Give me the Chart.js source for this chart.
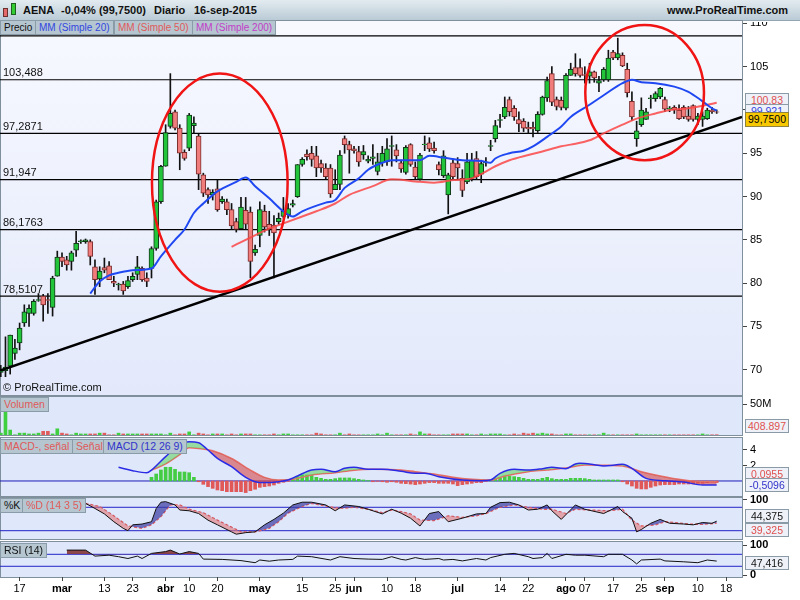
<!DOCTYPE html>
<html>
<head>
<meta charset="utf-8">
<title>AENA Diario</title>
<script src="https://cdn.jsdelivr.net/npm/chart.js@4.4.1/dist/chart.umd.min.js"></script>
<style>
  body { margin: 0; width: 800px; height: 600px; position: relative; overflow: hidden; background: #fff; font-family: "Liberation Sans", Arial, sans-serif; }
  .abs { position: absolute; }
  .panel { position: absolute; left: 0; width: 743px; border: 1px solid #7f8f9c; box-sizing: border-box; background: #dfe7fb; }
  canvas { position: absolute; left: 0; }
  .tag { position: absolute; left: 745px; width: 44px; box-sizing: border-box; font-size: 10.5px; line-height: 12px; text-align: center; border: 1px solid #8a9aa6; background: #eef2f8; white-space: nowrap; }
  .lbl { position: absolute; font-size: 10.5px; line-height: 13px; padding: 0 3px; background: #b5c6d0; border: 1px solid #8a9ca8; white-space: nowrap; }
  .hd { position: absolute; top: 4px; font-size: 11px; font-weight: bold; color: #111; }
</style>
</head>
<body>
<!-- header -->
<div class="abs" style="left:0;top:0;width:800px;height:20px;background:linear-gradient(#e3ebf0,#bacbd6);border-bottom:1px solid #93a6b2"></div>
<div class="abs" style="left:3px;top:8px;width:3px;height:7px;background:#e46a6a;border:1px solid #6b3030"></div>
<div class="abs" style="left:11px;top:3px;width:3px;height:10px;background:#33cc33;border:1px solid #1f5f1f"></div>
<span class="hd" style="left:23px">AENA</span>
<span class="hd" style="left:61px">-0,04% (99,7500)</span>
<span class="hd" style="left:154px">Diario</span>
<span class="hd" style="left:194px">16-sep-2015</span>
<span class="hd" style="left:667px">www.ProRealTime.com</span>

<!-- panel backgrounds -->
<div class="panel" style="top:20px;height:376px;background:linear-gradient(#f7f9ff,#e3e9fb)"></div>
<div class="panel" style="top:396px;height:40px"></div>
<div class="panel" style="top:437px;height:60px"></div>
<div class="panel" style="top:497px;height:43px"></div>
<div class="panel" style="top:541px;height:37px"></div>

<canvas id="cMain" width="800" height="372" style="top:22px"></canvas>
<canvas id="cVol" width="800" height="44" style="top:391px"></canvas>
<canvas id="cMacd" width="800" height="63" style="top:433px"></canvas>
<canvas id="cStoch" width="800" height="47" style="top:492px"></canvas>
<canvas id="cRsi" width="800" height="63" style="top:537px"></canvas>

<!-- legend boxes -->
<div class="lbl" style="left:0;top:20px;font-size:10px;color:#111">Precio</div>
<div class="lbl" style="left:35px;top:20px;font-size:10px;color:#3346e0">MM (Simple 20)</div>
<div class="lbl" style="left:114px;top:20px;font-size:10px;color:#e05a5a">MM (Simple 50)</div>
<div class="lbl" style="left:192px;top:20px;font-size:10px;color:#c23cc8">MM (Simple 200)</div>
<div class="abs" style="left:3px;top:381px;font-size:11px;color:#111">© ProRealTime.com</div>

<div class="lbl" style="left:0;top:397px;color:#e05a5a">Volumen</div>
<div class="lbl" style="left:0;top:439px;color:#e05a5a">MACD-, señal</div>
<div class="lbl" style="left:72px;top:439px;color:#e05a5a">Señal</div>
<div class="lbl" style="left:103px;top:439px;color:#3333cc">MACD (12 26 9)</div>
<div class="lbl" style="left:0;top:498px;color:#111">%K</div>
<div class="lbl" style="left:22px;top:498px;color:#e05a5a">%D (14 3 5)</div>
<div class="lbl" style="left:0;top:543px;color:#111">RSI (14)</div>

<!-- value tags -->
<div class="tag" style="top:93px;color:#e05050">100,83</div>
<div class="tag" style="top:104px;color:#3344dd">99,921</div>
<div class="tag" style="top:112px;height:15px;line-height:13px;background:#f7c800;border-color:#8d8240;color:#000">99,7500</div>
<div class="tag" style="top:419px;color:#e05050">408.897</div>
<div class="tag" style="top:467px;color:#e05050">0,0955</div>
<div class="tag" style="top:478px;height:14px;color:#3333cc">-0,5096</div>
<div class="tag" style="top:509px;color:#111">44,375</div>
<div class="tag" style="top:523px;height:14px;color:#e05050">39,325</div>
<div class="tag" style="top:556px;color:#111">47,416</div>

<script>
// trading days 11-feb-2015 .. 16-sep-2015, index 0..152
const openP = [
  69.7, 69.9, 70.4, 71.9, 73.1, 75.4, 76.5, 76.5, 78.0, 78.5,
  78.1, 77.2, 80.8, 83.0, 82.7, 82.5, 83.8, 84.8, 84.8, 84.8,
  81.9, 80.5, 81.8, 82.0, 80.2, 79.8, 79.9, 79.6, 80.4, 81.0,
  81.7, 80.6, 81.7, 84.0, 89.4, 93.5, 98.1, 99.8, 97.9, 95.1,
  95.6, 98.2, 97.0, 92.5, 90.8, 90.2, 90.9, 89.4, 89.4, 88.5,
  87.1, 86.3, 88.4, 88.2, 83.5, 85.5, 88.3, 86.8, 86.7, 87.1,
  87.7, 87.9, 89.0, 90.0, 93.7, 94.9, 95.0, 94.7, 93.8, 93.3,
  93.3, 90.8, 91.4, 96.7, 96.0, 95.5, 95.2, 94.8, 94.1, 94.4,
  92.9, 93.9, 94.0, 95.8, 95.4, 93.9, 92.8, 96.0, 93.4, 92.0,
  96.0, 96.2, 95.6, 93.7, 92.4, 90.2, 93.9, 93.8, 92.1, 91.7,
  92.1, 94.4, 92.6, 93.9, 95.8, 96.7, 98.8, 99.2, 101.2, 100.2,
  98.9, 98.7, 98.0, 98.0, 97.6, 99.5, 101.4, 104.2, 101.2, 101.1,
  100.2, 104.0, 104.9, 104.9, 104.1, 103.9, 104.4, 103.1, 103.5, 103.5,
  106.7, 106.0, 106.3, 104.7, 101.0, 96.7, 98.3, 98.9, 101.3, 101.3,
  101.5, 101.2, 100.1, 100.3, 100.0, 100.3, 99.3, 100.5, 98.9, 98.9,
  99.0, 100.0, 99.8
];
const highP = [
  70.5, 73.8, 74.0, 73.5, 75.4, 77.5, 77.5, 78.1, 78.8, 78.7,
  78.8, 80.8, 83.7, 83.5, 83.1, 83.7, 86.0, 85.0, 85.1, 85.0,
  82.7, 81.9, 82.9, 82.5, 80.8, 80.0, 80.2, 80.8, 81.2, 83.1,
  81.9, 81.2, 84.2, 89.6, 93.6, 98.3, 104.2, 100.0, 98.3, 95.4,
  99.6, 99.2, 97.2, 92.7, 91.0, 90.8, 91.9, 90.0, 89.7, 89.2,
  87.5, 89.9, 89.9, 88.8, 84.4, 89.4, 89.0, 88.3, 87.8, 88.1,
  89.9, 89.2, 89.6, 93.7, 94.5, 95.4, 95.8, 95.8, 94.2, 93.8,
  93.7, 93.1, 95.3, 97.0, 96.4, 95.8, 95.8, 95.9, 94.7, 96.0,
  95.0, 95.8, 96.7, 97.0, 96.0, 94.2, 95.9, 96.1, 94.0, 95.0,
  97.0, 96.8, 96.3, 94.0, 95.3, 92.7, 94.4, 94.5, 93.1, 95.0,
  95.0, 95.2, 94.2, 94.5, 96.5, 98.8, 99.5, 101.5, 101.5, 100.5,
  99.8, 99.0, 98.6, 98.6, 99.8, 101.6, 103.8, 105.0, 101.5, 101.5,
  104.2, 105.4, 106.5, 105.9, 105.0, 105.4, 104.5, 103.9, 104.9, 106.9,
  106.9, 108.3, 106.6, 105.4, 102.1, 98.7, 101.4, 100.2, 101.7, 102.1,
  102.6, 101.5, 100.4, 100.5, 100.6, 100.5, 100.4, 100.6, 99.6, 99.8,
  100.2, 100.3, 100.0
];
const lowP = [
  69.2, 69.2, 69.5, 71.2, 72.3, 75.0, 75.0, 76.3, 77.9, 75.6,
  76.5, 76.2, 80.8, 81.9, 81.5, 81.5, 83.1, 84.6, 84.6, 82.1,
  78.7, 79.6, 81.2, 80.4, 79.6, 79.2, 78.7, 79.4, 80.2, 80.4,
  80.2, 79.6, 80.6, 83.8, 89.2, 93.5, 97.9, 97.7, 93.1, 94.2,
  95.3, 97.3, 90.8, 90.0, 89.2, 89.6, 88.3, 89.2, 87.9, 86.2,
  85.9, 86.3, 86.2, 80.6, 83.2, 84.2, 85.9, 85.5, 80.6, 86.8,
  87.5, 87.5, 88.8, 89.9, 93.5, 94.2, 93.5, 92.3, 92.8, 92.0,
  89.9, 90.8, 90.8, 95.0, 92.7, 95.0, 93.5, 94.3, 93.9, 93.7,
  92.5, 93.5, 93.6, 93.5, 94.0, 92.8, 92.6, 93.5, 92.0, 91.9,
  95.3, 95.2, 95.0, 92.5, 92.2, 88.0, 92.0, 92.0, 90.0, 91.5,
  91.8, 92.0, 91.6, 93.5, 95.3, 96.3, 98.0, 99.0, 99.3, 98.8,
  97.5, 97.5, 97.3, 96.9, 97.4, 99.4, 101.0, 100.5, 100.0, 100.0,
  100.0, 104.0, 103.9, 103.8, 103.1, 103.1, 103.2, 102.1, 103.3, 103.3,
  105.8, 105.8, 105.0, 101.5, 98.8, 95.8, 98.1, 98.9, 100.2, 101.0,
  101.3, 99.8, 99.8, 99.6, 98.9, 99.0, 98.7, 98.7, 98.3, 98.1,
  98.9, 99.6, 99.6
];
const closeP = [
  70.0, 70.3, 74.0, 72.5, 74.8, 76.7, 77.1, 77.9, 78.1, 77.5,
  78.0, 80.6, 83.0, 82.5, 82.1, 83.5, 84.6, 84.9, 85.0, 83.1,
  80.4, 81.4, 81.5, 80.4, 80.0, 79.9, 79.1, 80.3, 80.8, 81.9,
  80.4, 80.2, 84.0, 89.4, 93.5, 97.4, 99.6, 97.9, 95.0, 94.4,
  99.4, 98.5, 92.6, 90.4, 90.2, 90.5, 88.5, 89.7, 88.5, 86.6,
  86.2, 88.8, 86.8, 82.5, 83.9, 88.5, 86.5, 86.3, 85.8, 87.5,
  88.3, 88.6, 89.2, 93.7, 94.3, 94.6, 94.3, 93.3, 93.3, 92.3,
  90.3, 91.4, 94.8, 96.0, 95.4, 95.3, 94.0, 95.2, 94.3, 94.6,
  94.0, 95.0, 95.5, 95.9, 94.7, 93.2, 95.7, 93.7, 92.3, 94.8,
  96.05, 95.5, 95.3, 93.1, 94.7, 92.5, 92.3, 93.3, 90.7, 94.0,
  94.2, 92.3, 93.8, 94.0, 95.9, 98.2, 98.9, 100.3, 99.8, 99.2,
  98.4, 97.9, 97.8, 97.8, 99.5, 101.5, 103.4, 100.9, 100.4, 100.3,
  104.0, 104.7, 104.2, 104.0, 104.0, 104.4, 103.7, 103.4, 104.7, 106.0,
  106.0, 106.5, 105.1, 102.0, 99.2, 97.6, 100.0, 99.8, 101.4, 101.9,
  102.5, 100.1, 100.2, 100.0, 99.0, 99.2, 98.9, 98.9, 99.3, 99.3,
  100.0, 99.8, 99.75
];
// volume in millions of shares
const volumeM = [
  3, 38, 8, 0.3, 3, 3, 1.7, 1.7, 3, 6,
  6, 1.7, 10, 3, 1.7, 0.3, 3, 1.7, 1.7, 1.7,
  1.7, 3, 3, 0.3, 0.3, 3, 1.7, 1.7, 1.7, 1.7,
  1.7, 1.7, 1.7, 1.7, 1.7, 0.3, 3, 0.3, 1.7, 1.7,
  5, 0.3, 3, 1.7, 0.3, 1.7, 1.7, 1.7, 0.3, 1.7,
  0.3, 1.7, 1.7, 1.7, 0.3, 0.3, 0.3, 0.3, 1.7, 0.3,
  1.7, 1.7, 0.3, 0.3, 0.3, 0.3, 0.3, 3, 1.7, 0.3,
  0.3, 0.3, 3, 0.3, 1.7, 0.3, 0.3, 0.3, 0.3, 0.3,
  1.7, 0.3, 3, 0.3, 0.3, 0.3, 0.3, 1.7, 0.3, 5,
  1.7, 1.7, 0.3, 0.3, 0.3, 0.3, 1.7, 1.7, 1.7, 1.7,
  0.3, 0.3, 1.7, 0.3, 1.7, 1.7, 1.7, 0.3, 0.3, 1.7,
  0.3, 3, 1.7, 3, 1.7, 3, 1.7, 1.7, 0.3, 0.3,
  1.7, 1.7, 0.3, 0.3, 0.3, 0.3, 0.3, 0.3, 3, 0.3,
  0.3, 0.3, 0.3, 0.3, 0.3, 1.7, 0.3, 0.3, 0.3, 0.3,
  0.3, 0.3, 0.3, 0.3, 0.3, 0.3, 0.3, 0.3, 0.3, 1.7,
  0.3, 0.3, 0.41
];
// moving averages (index, value)
const ma20Idx = [19, 21, 23, 25, 28, 32, 34, 37, 39, 41, 43, 46, 50, 52, 54, 57, 60, 62, 64, 69, 71, 73, 76, 78, 81, 83, 89, 91, 94, 98, 102, 104, 105, 108, 111, 113, 116, 119, 121, 125, 128, 132, 134, 136, 139, 143, 146, 149, 151, 152];
const ma20Val = [78.8, 80.2, 80.9, 81.2, 81.5, 81.7, 83.1, 85.0, 86.2, 88.1, 89.2, 90.6, 91.7, 92.2, 91.2, 89.8, 88.3, 87.7, 88.3, 89.3, 89.6, 91.0, 92.1, 93.1, 93.9, 94.2, 94.2, 94.7, 94.5, 94.2, 94.1, 93.9, 94.4, 95.0, 95.3, 95.8, 96.9, 98.1, 99.2, 100.6, 101.7, 103.1, 103.5, 103.2, 103.1, 102.7, 102.1, 101.0, 100.2, 99.92];
const ma50Idx = [49, 52, 55, 57, 60, 64, 67, 71, 74, 79, 83, 89, 92, 96, 100, 102, 105, 108, 112, 115, 119, 121, 125, 128, 132, 135, 139, 142, 146, 150, 152];
const ma50Val = [84.2, 85.0, 85.8, 86.3, 86.9, 87.7, 88.3, 89.2, 90.2, 91.2, 92.0, 91.7, 91.6, 91.9, 92.1, 92.6, 93.5, 94.2, 94.8, 95.2, 95.8, 96.0, 96.5, 97.3, 98.3, 99.0, 99.6, 100.0, 100.2, 100.6, 100.83];
// drawn objects on the price panel
const levels = [108.55, 103.488, 97.2871, 91.947, 86.1763, 78.5107];
const levelText = ['', '103,488', '97,2871', '91,947', '86,1763', '78,5107'];
const trendIdx = [-0.164, 157.37];
const trendVal = [69.9, 99.2];
const circles = [[46.5, 91.6, 14.4, 12.6], [136.7, 102.0, 12.6, 7.8]]; // centre idx, centre price, radius idx, radius price
// MACD (12 26 9)
const macdHist = [
  null, null, null, null, null, null, null, null, null, null,
  null, null, null, null, null, null, null, null, null, null,
  null, null, null, null, null, null, null, null, null, null,
  null, null,
  0.47, 0.9, 1.42, 1.77, 1.77, 1.5, 1.16, 1.16, 1.07, 0.47,
  -0.1, -0.43, -0.73, -0.95, -1.16, -1.25, -1.38, -1.38, -1.38, -1.38,
  -1.5, -1.25, -1.07, -0.82, -0.73, -0.65, -0.52, -0.3, -0.17, -0.05,
  0.3, 0.56, 0.77, 0.77, 0.77, 0.47, 0.34, 0.21, 0.21, 0.3,
  0.39, 0.39, 0.39, 0.3, 0.21, 0.13, 0.05, -0.1, -0.05, -0.1,
  -0.17, -0.1, -0.17, -0.3, -0.34, -0.4, -0.47, -0.39, -0.3, -0.21,
  -0.21, -0.3, -0.3, -0.3, -0.39, -0.6, -0.47, -0.39, -0.3, -0.21,
  -0.21, -0.05, 0.13, 0.34, 0.47, 0.65, 0.65, 0.56, 0.47, 0.34,
  0.21, 0.21, 0.21, 0.34, 0.47, 0.3, 0.21, 0.21, 0.21, 0.34,
  0.34, 0.34, 0.3, 0.21, 0.13, 0.13, 0.13, 0.13, 0.13, 0.13,
  -0.1, -0.39, -0.65, -0.95, -1.03, -1.03, -0.82, -0.65, -0.52, -0.47,
  -0.47, -0.47, -0.39, -0.39, -0.39, -0.39, -0.3, -0.3, -0.21, -0.13, -0.2
];
const macdIdx = [25, 28, 31, 32, 35, 38, 40, 42, 44, 46, 49, 52, 54, 56, 59, 61, 63, 66, 68, 71, 73, 75, 78, 81, 85, 88, 90, 93, 98, 102, 104, 106, 109, 112, 115, 117, 120, 122, 123, 126, 128, 132, 134, 137, 141, 145, 149, 152];
const macdVal = [1.77, 1.33, 1.07, 1.41, 3.14, 4.65, 5.07, 4.94, 4.0, 2.92, 1.85, 0.47, -0.09, -0.21, -0.09, 0.13, 0.65, 1.42, 1.51, 1.2, 1.63, 1.78, 1.51, 1.51, 1.25, 0.99, 0.99, 0.56, 0.13, 0.04, 0.13, 0.99, 1.51, 1.42, 1.59, 1.77, 1.59, 2.19, 2.28, 2.11, 1.94, 2.15, 1.63, 0.34, 0.04, -0.13, -0.52, -0.51];
const signalIdx = [32, 35, 38, 40, 42, 45, 49, 53, 56, 59, 62, 66, 71, 75, 79, 85, 88, 92, 96, 100, 104, 107, 112, 116, 120, 124, 129, 132, 136, 140, 145, 149, 152];
const signalVal = [1.4, 2.2, 3.4, 4.3, 4.2, 3.9, 2.9, 1.4, 0.47, 0.13, 0.21, 0.77, 1.07, 1.4, 1.5, 1.42, 1.2, 0.9, 0.47, 0.21, 0.13, 0.65, 1.2, 1.42, 1.68, 2.06, 2.02, 1.94, 1.2, 0.65, 0.13, -0.09, -0.1];
// Stochastic %K / %D (14 3 5)
const kIdx = [18, 20, 22, 24, 26, 27, 28, 30, 32, 33, 34, 35, 37, 38, 40, 42, 44, 46, 49, 50, 52, 54, 56, 58, 60, 62, 64, 66, 69, 71, 73, 76, 78, 81, 83, 85, 87, 89, 91, 93, 95, 98, 101, 103, 104, 106, 108, 110, 112, 114, 116, 117, 119, 122, 124, 128, 131, 132, 134, 135, 136, 138, 140, 142, 145, 147, 149, 151, 152];
const kVal = [90, 77, 63, 43, 26, 20, 35, 37, 43, 77, 93, 94.5, 86, 73, 71, 64, 47, 35, 17, 11, 15, 17, 35, 49, 65, 86, 93, 93, 86, 71, 86, 82, 75, 63, 75, 65, 52, 32, 64, 69, 43, 52, 63, 64, 80, 92, 93, 86, 73, 75, 86, 71, 49, 86, 75, 64, 82, 69, 52, 17, 23, 39, 49, 39, 37, 35, 41, 39, 44.4];
const dIdx = [18, 21, 24, 27, 30, 32, 34, 36, 38, 40, 43, 46, 49, 51, 54, 57, 59, 61, 64, 66, 69, 72, 75, 78, 81, 83, 85, 87, 89, 92, 95, 98, 101, 103, 106, 109, 112, 115, 117, 120, 122, 125, 129, 132, 134, 136, 139, 141, 143, 146, 149, 152];
const dVal = [90, 82, 58, 32, 26, 35, 56, 86, 86, 75, 66, 47, 29, 17, 17, 26, 43, 65, 82, 90, 83, 77, 80, 75, 66, 73, 69, 63, 47, 46, 58, 54, 58, 64, 80, 86, 80, 75, 75, 64, 75, 73, 71, 75, 47, 32, 35, 43, 41, 37, 36, 39.3];
// RSI (14)
const rsiIdx = [14, 18, 20, 23, 25, 27, 29, 30, 32, 35, 36, 38, 40, 42, 43, 47, 51, 54, 55, 57, 59, 62, 63, 66, 70, 72, 75, 78, 81, 83, 85, 86, 88, 90, 93, 94, 96, 98, 101, 103, 104, 107, 109, 112, 113, 115, 116, 117, 120, 122, 124, 128, 129, 132, 134, 135, 136, 140, 141, 145, 148, 150, 152];
const rsiVal = [84, 84, 64, 67, 62, 56, 64, 56, 73, 79, 84, 71, 79, 73, 54, 53, 49, 42, 51, 47, 51, 53, 64, 62, 51, 62, 56, 54, 53, 62, 53, 51, 59, 53, 56, 51, 53, 48, 56, 51, 59, 70, 73, 62, 56, 59, 73, 56, 70, 67, 67, 62, 70, 70, 51, 38, 51, 54, 48, 45, 42, 51, 47.4];
// axes
const priceTicks = [70, 75, 80, 85, 90, 95, 100, 105, 110];
const tickIdx = [4, 13, 22, 28, 35, 40, 46, 55, 64, 71, 75, 82, 88, 97, 106, 112, 120, 124, 130, 136, 141, 148, 154];
const tickText = ['17', 'mar', '13', '23', 'abr', '10', '20', 'may', '15', '25', 'jun', '10', '18', 'jul', '14', '22', 'ago', '07', '17', '25', 'sep', '10', '18'];

const X_MIN = -0.164, X_MAX = 157.37;
const FONT = '"Liberation Sans", Arial, sans-serif';
Chart.defaults.font.family = FONT;
Chart.defaults.font.size = 11;
Chart.defaults.color = '#000';
Chart.defaults.animation = false;
Chart.defaults.plugins.legend.display = false;
Chart.defaults.plugins.tooltip.enabled = false;

const days = closeP.map((_, i) => i);
const isUp = i => closeP[i] >= openP[i];
const pts = (xs, ys) => xs.map((x, k) => ({ x: x, y: ys[k] }));
const hline = v => [{ x: X_MIN, y: v }, { x: X_MAX, y: v }];

function xAxis(show) {
  return {
    type: 'linear', min: X_MIN, max: X_MAX, display: show, offset: false,
    afterBuildTicks: s => { s.ticks = tickIdx.map(v => ({ value: v })); },
    afterFit: s => {
      if (show) s.height = 23;
      s.paddingLeft = 0; s.paddingRight = 0;
    },
    ticks: {
      autoSkip: false, maxRotation: 0, padding: 1, color: '#000',
      callback: v => { const k = tickIdx.indexOf(v); return k < 0 ? '' : tickText[k]; },
      font: ctx => {
        const k = ctx.tick ? tickIdx.indexOf(ctx.tick.value) : -1;
        return { size: 11, weight: (k >= 0 && /[a-z]/.test(tickText[k])) ? 'bold' : 'normal' };
      }
    },
    grid: { drawOnChartArea: false, tickLength: 4, color: '#444', offset: false },
    border: { display: false }
  };
}
function rightAxis(min, max, vals, fmt, bold) {
  return {
    position: 'right', min: min, max: max,
    afterBuildTicks: s => { s.ticks = vals.map(v => ({ value: v })); },
    afterFit: s => { s.width = 58; s.paddingTop = 0; s.paddingBottom = 0; },
    ticks: { padding: 3, color: '#000', font: { size: 11, weight: bold ? 'bold' : 'normal' }, callback: fmt || (v => v) },
    grid: { drawOnChartArea: false, tickLength: 5, color: '#444' },
    border: { color: '#7f8f9c' }
  };
}
function baseOpts(min, max, vals, fmt, bold, showX, padTop) {
  return {
    responsive: false,
    layout: { padding: { top: padTop, left: 0, right: 0, bottom: 0 } },
    scales: { x: xAxis(showX), y: rightAxis(min, max, vals, fmt, bold) }
  };
}

// ellipses and level captions on price panel
const priceDeco = {
  id: 'priceDeco',
  afterDatasetsDraw(chart) {
    const { ctx, scales: { x, y } } = chart;
    ctx.save();
    ctx.font = '11px ' + FONT;
    ctx.fillStyle = '#111';
    ctx.textBaseline = 'bottom';
    levels.forEach((v, k) => { if (levelText[k]) ctx.fillText(levelText[k], 3, y.getPixelForValue(v) - 1); });
    ctx.strokeStyle = '#f01414';
    ctx.lineWidth = 2.5;
    circles.forEach(c => {
      const cx = x.getPixelForValue(c[0]), cy = y.getPixelForValue(c[1]);
      const rx = x.getPixelForValue(c[0] + c[2]) - cx;
      const ry = cy - y.getPixelForValue(c[1] + c[3]);
      ctx.beginPath();
      ctx.ellipse(cx, cy, rx, ry, 0, 0, Math.PI * 2);
      ctx.stroke();
    });
    ctx.restore();
  }
};

// price panel
new Chart(document.getElementById('cMain'), {
  type: 'bar',
  data: {
    datasets: [
      {
        label: 'cuerpo', data: days.map(i => ({ x: i, y: [openP[i], closeP[i]] })),
        backgroundColor: days.map(i => isUp(i) ? '#22c43a' : '#f07c7c'),
        borderColor: days.map(i => isUp(i) ? '#12361a' : '#7a2a2a'),
        borderWidth: 1, borderSkipped: false, barThickness: 5, grouped: false, order: 5
      },
      {
        label: 'mecha', data: days.map(i => ({ x: i, y: [lowP[i], highP[i]] })),
        backgroundColor: '#111', barThickness: 1, grouped: false, order: 6
      },
      { type: 'line', label: 'MM 20', data: pts(ma20Idx, ma20Val), borderColor: '#1f48f2', borderWidth: 2, pointRadius: 0, cubicInterpolationMode: 'monotone', order: 2 },
      { type: 'line', label: 'MM 50', data: pts(ma50Idx, ma50Val), borderColor: 'rgba(250,70,70,0.85)', borderWidth: 2, pointRadius: 0, cubicInterpolationMode: 'monotone', order: 3 },
      { type: 'line', label: 'tendencia', data: pts(trendIdx, trendVal), borderColor: '#000', borderWidth: 2.5, pointRadius: 0, order: 1 },
      ...levels.map(v => ({ type: 'line', label: 'nivel', data: hline(v), borderColor: '#000', borderWidth: 1.2, pointRadius: 0, order: 10 }))
    ]
  },
  options: baseOpts(67.2, 110.16, priceTicks, v => v, false, false, 0),
  plugins: [priceDeco]
});

// volume panel
new Chart(document.getElementById('cVol'), {
  type: 'bar',
  data: {
    datasets: [{
      label: 'Volumen', data: days.map(i => ({ x: i, y: volumeM[i] })),
      backgroundColor: days.map(i => isUp(i) ? '#3fcf3f' : '#e05c5c'),
      barThickness: 3, grouped: false
    }]
  },
  options: baseOpts(0, 61.3, [50], () => '50M', false, false, 6)
});

// MACD panel
new Chart(document.getElementById('cMacd'), {
  type: 'bar',
  data: {
    datasets: [
      {
        type: 'line', label: 'MACD', data: pts(macdIdx, macdVal), borderColor: '#2b2be6', borderWidth: 1.5, pointRadius: 0,
        cubicInterpolationMode: 'monotone', order: 1,
        fill: { target: 1, above: 'rgba(90,210,90,0.55)', below: 'rgba(214,78,78,0.62)' }
      },
      { type: 'line', label: 'Señal', data: pts(signalIdx, signalVal), borderColor: '#ef6b6b', borderWidth: 1.5, pointRadius: 0, cubicInterpolationMode: 'monotone', order: 2 },
      {
        label: 'MACD-, señal',
        data: days.filter(i => macdHist[i] !== null).map(i => ({ x: i, y: macdHist[i] })),
        backgroundColor: days.filter(i => macdHist[i] !== null).map(i => macdHist[i] >= 0 ? '#44cc44' : '#e05858'),
        barThickness: 3, grouped: false, order: 3
      },
      { type: 'line', label: 'cero', data: hline(0), borderColor: '#1d1db8', borderWidth: 1, pointRadius: 0, order: 4 }
    ]
  },
  options: baseOpts(-1.94, 5.42, [2, 4], v => v, false, false, 6)
});

// Stochastic panel
new Chart(document.getElementById('cStoch'), {
  type: 'line',
  data: {
    datasets: [
      {
        label: '%K', data: pts(kIdx, kVal), borderColor: '#111', borderWidth: 1, pointRadius: 0, order: 1,
        fill: { target: 1, above: 'rgba(62,62,165,0.72)', below: 'rgba(226,120,120,0.6)' }
      },
      { label: '%D', data: pts(dIdx, dVal), borderColor: '#e35a5a', borderWidth: 1.3, borderDash: [3, 2], pointRadius: 0, order: 2 },
      { label: '80', data: hline(80), borderColor: '#2323c8', borderWidth: 1, pointRadius: 0, order: 3 },
      { label: '20', data: hline(20), borderColor: '#2323c8', borderWidth: 1, pointRadius: 0, order: 3 }
    ]
  },
  options: baseOpts(-1.3, 103.8, [100], v => v, true, false, 6)
});

// RSI panel with date axis
new Chart(document.getElementById('cRsi'), {
  type: 'line',
  data: {
    datasets: [
      {
        label: 'RSI', data: pts(rsiIdx, rsiVal), borderColor: '#111', borderWidth: 1, pointRadius: 0, order: 1,
        fill: { value: 70, above: 'rgba(125,42,42,0.85)', below: 'rgba(0,0,0,0)' }
      },
      { label: '70', data: hline(70), borderColor: '#2323c8', borderWidth: 1, pointRadius: 0, order: 2 },
      { label: '30', data: hline(30), borderColor: '#2323c8', borderWidth: 1, pointRadius: 0, order: 2 }
    ]
  },
  options: baseOpts(-5.7, 107.7, [0, 100], v => v, true, true, 6)
});
</script>
</body>
</html>
